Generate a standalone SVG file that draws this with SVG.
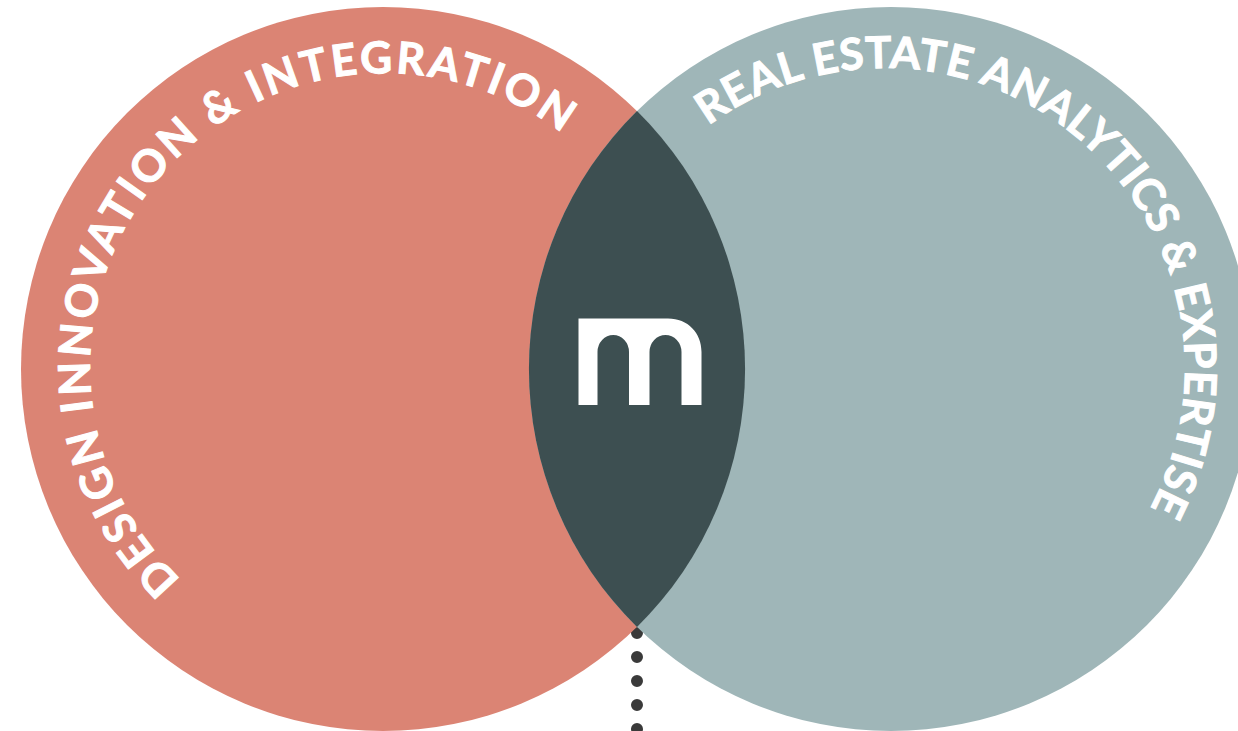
<svg xmlns="http://www.w3.org/2000/svg" width="1238" height="731" viewBox="0 0 1238 731">
<style>
.lbl{font-family:"Lato","Liberation Sans",sans-serif;font-weight:700;font-size:44px;fill:#fff;stroke:#fff;stroke-width:1px}
</style>
<defs>
<path id="arcL" d="M180.900 579.600 A294 294 0 1 1 609.200 178"/>
<path id="arcR" d="M708.200 125.600 A300 300 0 0 1 1097.100 580.100"/>
</defs>
<rect width="1238" height="731" fill="#fff"/>
<g id="connectors"><path d="M637 633V731" fill="none" stroke="#3a3a3a" stroke-width="12" stroke-linecap="round" stroke-dasharray="0 24"/></g>
<g id="circle-design"><circle cx="383" cy="369" r="362" fill="#db8474"/>
<text class="lbl"><textPath href="#arcL" textLength="890" lengthAdjust="spacing">DESIGN INNOVATION &amp; INTEGRATION</textPath></text></g>
<g id="circle-real-estate"><circle cx="891" cy="369" r="362" fill="#9fb6b8"/>
<text class="lbl"><textPath href="#arcR" textLength="806" lengthAdjust="spacing">REAL ESTATE ANALYTICS &amp; EXPERTISE</textPath></text></g>
<g id="overlap"><path d="M637 111A362 362 0 0 1 637 627A362 362 0 0 1 637 111Z" fill="#3d4f51"/>
<path d="M578.500 318.500H668C688 318.500 701.500 333 701.500 352V405H681.500V352A16 17 0 0 0 649.500 352V405H629V352A15.750 17 0 0 0 597.500 352V405H578.500Z" fill="#fff"/></g>
</svg>
